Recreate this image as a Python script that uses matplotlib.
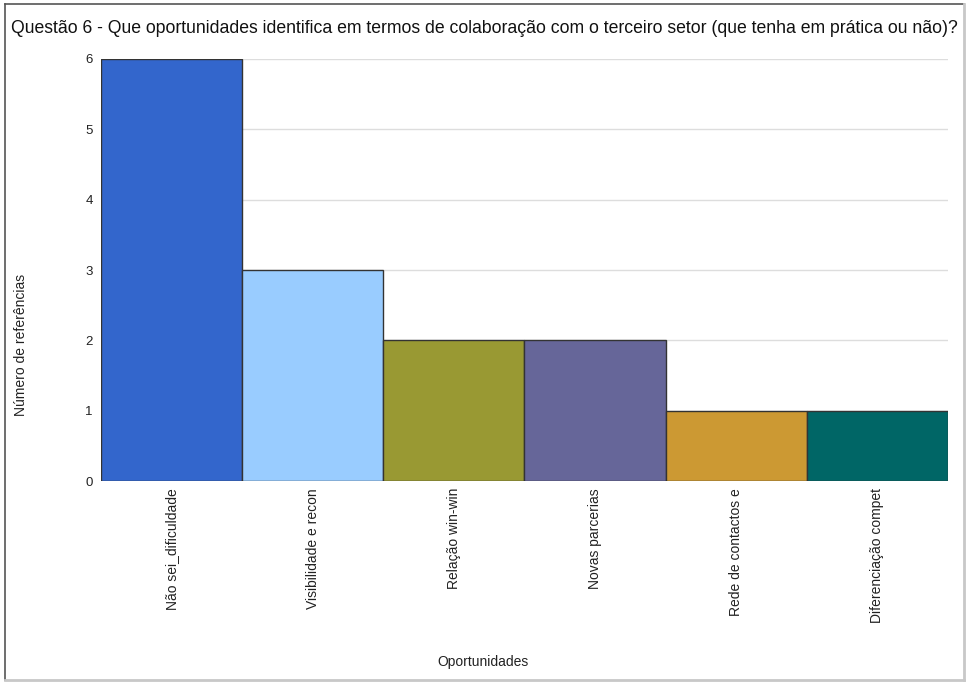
import matplotlib.pyplot as plt
from matplotlib.lines import Line2D

categories = [
    "Não sei_dificuldade",
    "Visibilidade e recon",
    "Relação win-win",
    "Novas parcerias",
    "Rede de contactos e",
    "Diferenciação compet",
]
counts = [6, 3, 2, 2, 1, 1]
colors = ["#3366CC", "#99CCFF", "#999933", "#666699", "#CC9933", "#006666"]

plt.rcParams["font.family"] = ["Liberation Sans", "DejaVu Sans"]

fig = plt.figure(figsize=(9.68, 6.82), dpi=100)
ax = fig.add_axes([0.1043, 0.2947, 0.875, 0.6188])

x = list(range(len(categories)))
ax.bar(x, counts, width=1.0, color=colors, edgecolor="#333333", linewidth=1.0, zorder=3)
ax.set_xlim(-0.5, len(categories) - 0.5)
ax.set_ylim(0, 6)
ax.set_yticks(range(0, 7))
ax.yaxis.grid(True, color="#dddddd", linewidth=1.0, zorder=0)
for s in ax.spines.values():
    s.set_visible(False)
ax.tick_params(axis="both", length=0, labelsize=10, colors="#222222")
ax.tick_params(axis="y", pad=6, labelsize=9.5)
ax.tick_params(axis="x", pad=5)
ax.set_xticks(x)
ax.set_xticklabels(categories, rotation=90, va="top")

fig.text(0.5, 0.958, "Questão 6 - Que oportunidades identifica em termos de colaboração com o terceiro setor (que tenha em prática ou não)?",
         ha="center", va="center", fontsize=12.7, color="#111111")
fig.text(0.022, 0.494, "Número de referências", rotation=90, ha="center", va="center", fontsize=10, color="#222222")
fig.text(0.499, 0.029, "Oportunidades", ha="center", va="center", fontsize=10, color="#222222")

# frame around the picture
W, H = 968, 682
fig.add_artist(Line2D([5 / W, 5 / W], [1 - 4 / H, 1 - 680 / H], transform=fig.transFigure, color="#555555", lw=1.2))
fig.add_artist(Line2D([5 / W, 964 / W], [1 - 4 / H, 1 - 4 / H], transform=fig.transFigure, color="#555555", lw=1.2))
fig.add_artist(Line2D([964 / W, 964 / W], [1 - 4 / H, 1 - 680 / H], transform=fig.transFigure, color="#c8c8c8", lw=2))
fig.add_artist(Line2D([5 / W, 964 / W], [1 - 680 / H, 1 - 680 / H], transform=fig.transFigure, color="#c8c8c8", lw=2))

fig.savefig("out.png", dpi=100)
